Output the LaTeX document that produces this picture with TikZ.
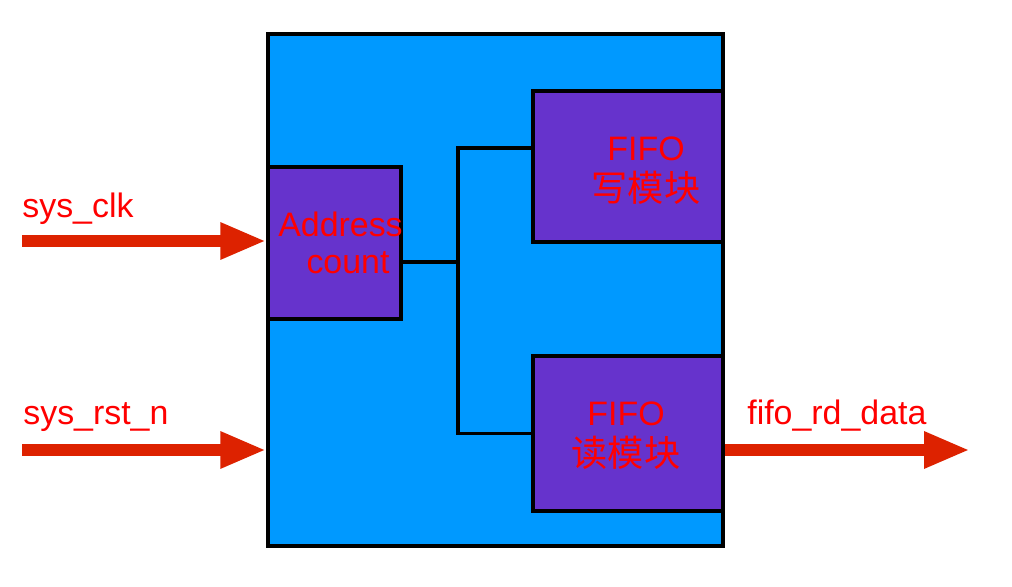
\documentclass[tikz,border=0pt]{standalone}
\usepackage{fontspec}
\setmainfont{Liberation Sans}
\newfontfamily\cjk{Noto Sans CJK SC}
\usetikzlibrary{arrows.meta, positioning}
\definecolor{chipblue}{RGB}{0,153,255}
\definecolor{modpurple}{RGB}{102,51,204}
\definecolor{sigred}{RGB}{221,34,0}
\definecolor{txtred}{RGB}{255,0,0}

\begin{document}
\begin{tikzpicture}[
    x=0.02cm, y=-0.02cm,
    every node/.style={font=\fontsize{19.3}{21}\selectfont, text=txtred},
    box/.style={draw, line width=2pt, fill=#1, inner sep=0pt, align=center},
    box/.default=modpurple,
    wire/.style={line width=2pt},
    sig/.style={draw=sigred, line width=0.24cm, -{Triangle[length=0.92cm, width=0.68cm]}}
]

\useasboundingbox[fill=white] (0,0) rectangle (1012,587);

% Top level box
\node[box=chipblue, minimum width=9.1cm, minimum height=10.24cm] (top) at (495.5,290) {};

% Sub modules
\node[box, minimum width=2.66cm, minimum height=3.04cm] (addr) at (334.5,243) {};
\node[align=center] (addrlbl) at ([xshift=0.12cm]addr.center) {Address\\\hspace*{0.3cm}count};
\node[box, minimum width=3.8cm, minimum height=3.02cm] (fifowr) at (628,166.5) {};
\node[align=center, font=\fontsize{19.3}{23}\selectfont] (fifowrlbl) at ([xshift=0.36cm, yshift=-0.08cm]fifowr.center) {FIFO\\{\cjk\fontsize{20.6}{23}\selectfont 写模块}};
\node[box, minimum width=3.8cm, minimum height=3.1cm] (fiford) at (628,433.5) {};
\node[align=center, font=\fontsize{19.3}{23}\selectfont] (fifordlbl) at ([xshift=-0.04cm, yshift=-0.04cm]fiford.center) {FIFO\\{\cjk\fontsize{20.6}{23}\selectfont 读模块}};

% Internal bus
\coordinate (bus) at (458,262);
\coordinate (wrtap) at (458,148);
\draw[wire] (addr.east |- bus) -- (bus);
\draw[wire] (wrtap -| fifowr.west) -- (wrtap) -- (wrtap |- fiford.west) -- (fiford.west);

% Ports
\coordinate (clkin) at (22,241);
\coordinate (rstin) at (22,450);
\coordinate (rdout) at (970,450);
\draw[sig] (clkin) -- (clkin -| top.west);
\draw[sig] (rstin) -- (rstin -| top.west);
\draw[sig] (rdout -| fiford.east) -- (rdout);

\node[anchor=base west, inner sep=0pt] (clklbl) at (22,218) {sys\_clk};
\node[anchor=base west, inner sep=0pt] (rstlbl) at (23,425) {sys\_rst\_n};
\node[anchor=base west, inner sep=0pt] (rdlbl) at (747,425) {fifo\_rd\_data};

\end{tikzpicture}
\end{document}
